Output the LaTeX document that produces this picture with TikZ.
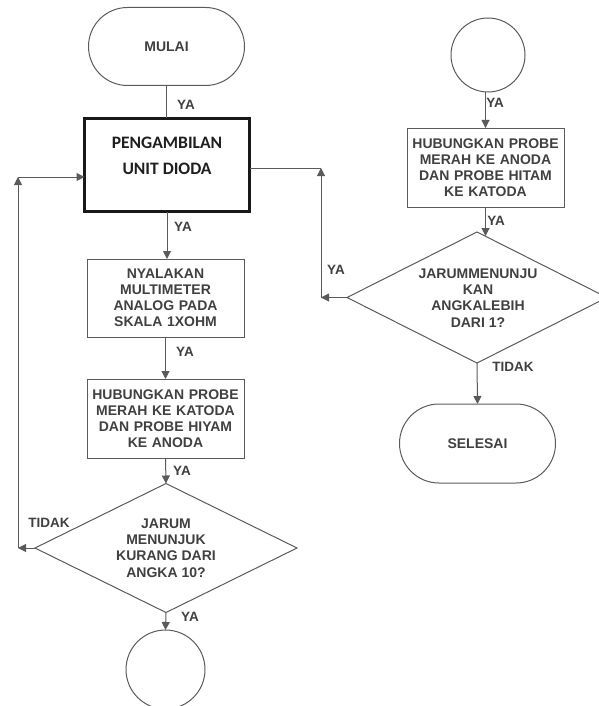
\documentclass[tikz,border=0pt]{standalone}
\usepackage{fontspec}
\setmainfont{Liberation Sans}
\newfontfamily\calibrifont{Carlito}
\usetikzlibrary{shapes.geometric,shapes.misc,arrows.meta}

\definecolor{linegray}{HTML}{5A5A5A}
\definecolor{inkgray}{HTML}{404040}

\begin{document}
\begin{tikzpicture}[x=1pt,y=-1pt,
  every node/.style={inner sep=0pt, outer sep=0pt},
  base/.style={draw=linegray, line width=1pt, text=inkgray,
    font=\fontsize{14}{16}\selectfont\bfseries, align=center},
  terminal/.style={base, rounded rectangle, minimum width=156pt, minimum height=78pt},
  procbox/.style={base, rectangle, minimum width=157pt, minimum height=78pt, text width=150pt},
  decision/.style={base, diamond},
  decisiontext/.style={text=inkgray, font=\fontsize{14}{16.3}\selectfont\bfseries, align=center},
  connector/.style={base, circle},
  flow/.style={draw=linegray, line width=1pt},
  arrow/.style={flow, -{Triangle[length=8pt,width=8pt]}},
  tag/.style={text=inkgray, font=\fontsize{13.5}{15}\selectfont\bfseries}
]
\useasboundingbox (0,0) rectangle (598,706);

% left column
\node[terminal] (start) at (166.5,46.5) {MULAI};
\node[draw=black!90, line width=3pt, rectangle, minimum width=165pt, minimum height=93pt] (take) at (167,165) {};
\node[text=black!88, font=\calibrifont\bfseries\fontsize{17.5}{26}\selectfont, align=center] (taketext) at (167,156) {PENGAMBILAN\\UNIT DIODA};
\node[procbox] (meter) at (165.5,298) {NYALAKAN\\MULTIMETER\\ANALOG PADA\\SKALA 1XOHM};
\node[procbox, minimum height=79pt] (probe1) at (165.5,418.5) {HUBUNGKAN PROBE\\MERAH KE KATODA\\DAN PROBE HIYAM\\KE ANODA};
\node[decision, minimum width=262pt, minimum height=129pt] (ask1) at (166,548) {};
\node[decisiontext] (ask1text) at (166,548) {JARUM\\MENUNJUK\\KURANG DARI\\ANGKA 10?};
\node[connector, minimum size=79pt] (joinA) at (165.5,669.5) {};

% right column
\node[connector, minimum size=74pt] (joinB) at (488,55) {};
\node[procbox, minimum height=79pt] (probe2) at (485.5,167.5) {HUBUNGKAN PROBE\\MERAH KE ANODA\\DAN PROBE HITAM\\KE KATODA};
\node[decision, minimum width=260pt, minimum height=131pt] (ask2) at (477,297.5) {};
\node[decisiontext] (ask2text) at (478,298) {JARUMMENUNJU\\KAN\\ANGKALEBIH\\DARI 1?};
\node[terminal, minimum height=79pt] (stop) at (477.5,443.5) {SELESAI};

% loop corners
\coordinate (lb) at (18,548);
\coordinate (lt) at (18,177);
\coordinate (rb) at (321,297.5);
\coordinate (rt) at (321,168);

% main flow
\draw[flow] (start.south) -- (start.south |- take.north);
\draw[arrow] (take.south) -- (take.south |- meter.north);
\draw[arrow] (meter.south) -- (probe1.north);
\draw[arrow] (probe1.south) -- (ask1.north);
\draw[arrow] (ask1.south) -- (joinA.north);

\draw[arrow] (joinB.south -| probe2.north) -- (probe2.north);
\draw[arrow] (probe2.south) -- ([yshift=-4pt]probe2.south |- ask2.north);
\draw[arrow] (ask2.south) -- (stop.north);

% loops back
\draw[arrow] (ask1.west) -- (lb);
\draw[arrow] (lb) -- (lt);
\draw[arrow] (lt) -- (lt -| take.west);

\draw[arrow] (ask2.west) -- (rb);
\draw[arrow] (rb) -- (rt);
\draw[flow] (rt) -- (rt -| take.east);

% branch labels
\node[tag] (t1) at (186,105) {YA};
\node[tag] (t2) at (183,227) {YA};
\node[tag] (t3) at (185,352) {YA};
\node[tag] (t4) at (182,471) {YA};
\node[tag] (t5) at (190,617) {YA};
\node[tag] (t6) at (49,523) {TIDAK};
\node[tag] (t7) at (495,103) {YA};
\node[tag] (t8) at (496,221) {YA};
\node[tag] (t9) at (336,270) {YA};
\node[tag] (t10) at (513,367) {TIDAK};
\end{tikzpicture}
\end{document}
